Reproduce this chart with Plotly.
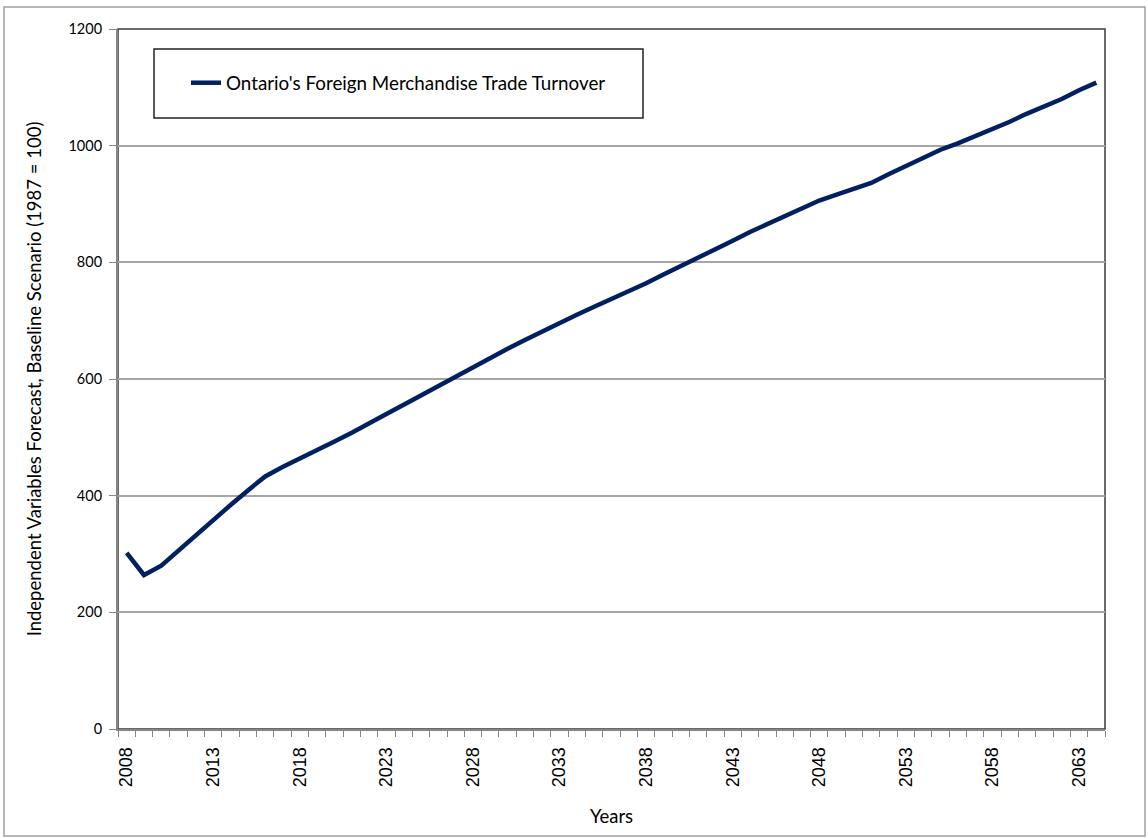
import plotly.graph_objects as go

# Forecast years and the trade turnover index (1987 = 100)
years = list(range(2008, 2065))
turnover = [
    302, 264, 280, 306, 334, 358, 384, 409, 433, 449,
    463, 478, 493, 508, 523, 540, 556, 572, 590, 606,
    622, 637, 652, 667, 682, 696, 710, 724, 737, 751,
    764, 779, 793, 809, 823, 837, 852, 866, 880, 893,
    906, 916, 925, 936, 951, 965, 979, 993, 1004, 1016,
    1029, 1041, 1055, 1067, 1080, 1095, 1108,
]
series_name = "Ontario's Foreign Merchandise Trade Turnover"
label_years = list(range(2008, 2065, 5))
y_ticks = [0, 200, 400, 600, 800, 1000, 1200]

W, H = 1148, 838
L, R, T, B = 118, 43, 29, 109
PW, PH = W - L - R, H - T - B

AXIS_GREY = "#868686"
GRID_GREY = "#a6a6a6"
TEXT_FONT = "Lato"

fig = go.Figure()
fig.add_trace(go.Scatter(
    x=years, y=turnover, mode="lines", name=series_name,
    line=dict(color="#002060", width=4.5),
))

fig.update_layout(
    width=W, height=H,
    margin=dict(l=L, r=R, t=T, b=B),
    paper_bgcolor="white", plot_bgcolor="white",
    showlegend=True,
    legend=dict(
        x=(186 - L) / PW, y=(729 - 83) / PH, xanchor="left", yanchor="middle",
        bgcolor="rgba(0,0,0,0)", borderwidth=0,
        font=dict(family=TEXT_FONT, size=18.8, color="black"),
        itemwidth=30,
    ),
    xaxis=dict(
        range=[2007.5, 2064.5],
        tickmode="array", tickvals=label_years,
        ticktext=[str(v) for v in label_years],
        tickangle=-90, ticks="", showgrid=False, zeroline=False,
        showline=True, linecolor=AXIS_GREY, linewidth=2,
        ticklabelstandoff=9,
        tickfont=dict(family="Liberation Sans", size=18, color="black"),
        minor=dict(tickmode="linear", tick0=2007.5, dtick=1,
                   ticks="outside", ticklen=6, tickcolor=AXIS_GREY,
                   tickwidth=1, showgrid=False),
        title=dict(text="Years", font=dict(family=TEXT_FONT, size=18.5, color="black"),
                   standoff=24),
    ),
    yaxis=dict(
        range=[0, 1200], tickmode="array", tickvals=y_ticks,
        ticks="outside", ticklen=7, tickcolor=AXIS_GREY, tickwidth=1,
        showgrid=True, gridcolor=GRID_GREY, gridwidth=1.5,
        zeroline=False, showline=True, linecolor=AXIS_GREY, linewidth=2,
        ticklabelstandoff=4,
        tickfont=dict(family=TEXT_FONT, size=14.5, color="black"),
        title=dict(text="Independent Variables Forecast, Baseline Scenario (1987 = 100)",
                   font=dict(family=TEXT_FONT, size=18.5, color="black"),
                   standoff=22),
    ),
    shapes=[
        # plot frame (top / right edges)
        dict(type="rect", xref="paper", yref="paper", x0=0, x1=1, y0=0, y1=1,
             line=dict(color="#3a3a3a", width=1.5), layer="below"),
        # legend box
        dict(type="rect", xref="paper", yref="paper",
             x0=(154 - L) / PW, x1=(643 - L) / PW,
             y0=(729 - 118) / PH, y1=(729 - 49) / PH,
             line=dict(color="#222222", width=1.5), layer="above"),
        # outer chart border
        dict(type="rect", xref="paper", yref="paper",
             xsizemode="pixel", ysizemode="pixel", xanchor=0, yanchor=0,
             x0=4 - L, x1=1145 - L, y0=729 - 836, y1=729 - 7,
             line=dict(color="#a0a0a0", width=1.5), layer="below"),
    ],
)

fig.write_html("out.html")
